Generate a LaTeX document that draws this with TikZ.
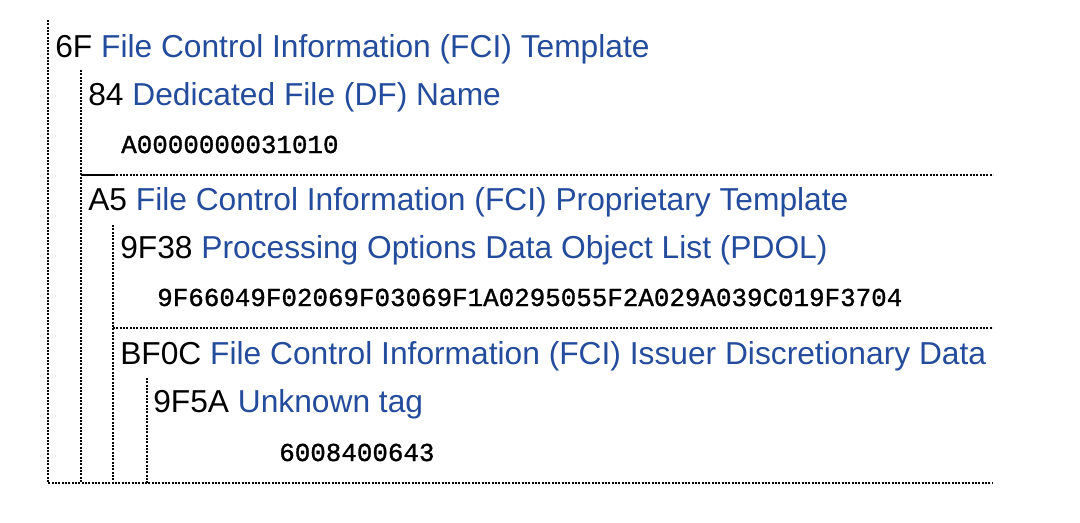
\documentclass[tikz,border=0pt]{standalone}
\usepackage{fontspec}
\setmainfont{Liberation Sans}
\newfontfamily\hexfont[FakeBold=1.2]{Liberation Mono}
\usepackage{tikz}

\definecolor{tagblue}{RGB}{36,76,156}

\begin{document}
\begin{tikzpicture}[x=0.75pt, y=-0.75pt,
  tagline/.style={anchor=base west, inner sep=0pt, font=\fontsize{23.8}{28}\selectfont},
  hexline/.style={anchor=base west, inner sep=0pt, font=\hexfont\fontsize{19.4}{22}\selectfont},
  border/.style={line width=1.1pt, dash pattern=on 1.4pt off 1.1pt}]
\useasboundingbox (0,0) rectangle (1080,522);

% tags and values
\node [tagline] (fci) at (55,57) {6F \textcolor{tagblue}{File Control Information (FCI) Template}};
\node [tagline] (dfname) at (88,105) {84 \textcolor{tagblue}{Dedicated File (DF) Name}};
\node [hexline] (dfvalue) at (121,153) {A0000000031010};
\node [tagline] (prop) at (88,210) {A5 \textcolor{tagblue}{File Control Information (FCI) Proprietary Template}};
\node [tagline] (pdol) at (120,258) {9F38 \textcolor{tagblue}{Processing Options Data Object List (PDOL)}};
\node [hexline] (pdolvalue) at (157,306) {9F66049F02069F03069F1A0295055F2A029A039C019F3704};
\node [tagline] (issuer) at (120,364) {BF0C \textcolor{tagblue}{File Control Information (FCI) Issuer Discretionary Data}};
\node [tagline] (unknown) at (153,412) {9F5A \textcolor{tagblue}{Unknown tag}};
\node [hexline] (unknownvalue) at (279,461) {6008400643};

% block borders
\coordinate (fci-top) at (48,20);
\coordinate (fci-bl) at (48,483);
\coordinate (fci-br) at (993,483);
\coordinate (dfname-top) at (81,70);
\coordinate (dfname-bl) at (81,483);
\coordinate (prop-tl) at (81,175);
\coordinate (prop-mid) at (113,175);
\coordinate (prop-tr) at (993,175);
\coordinate (pdol-top) at (113,225);
\coordinate (pdol-bl) at (113,483);
\coordinate (issuer-tl) at (113,328);
\coordinate (issuer-tr) at (993,328);
\coordinate (unknown-top) at (147,378);
\coordinate (unknown-bl) at (147,483);

\draw [border] (fci-top) -- (fci-bl) -- (fci-br);
\draw [border] (dfname-top) -- (dfname-bl);
\draw [line width=1.1pt] (prop-tl) -- (prop-mid);
\draw [border] (prop-mid) -- (prop-tr);
\draw [border] (pdol-top) -- (pdol-bl);
\draw [border] (issuer-tl) -- (issuer-tr);
\draw [border] (unknown-top) -- (unknown-bl);

\end{tikzpicture}
\end{document}
